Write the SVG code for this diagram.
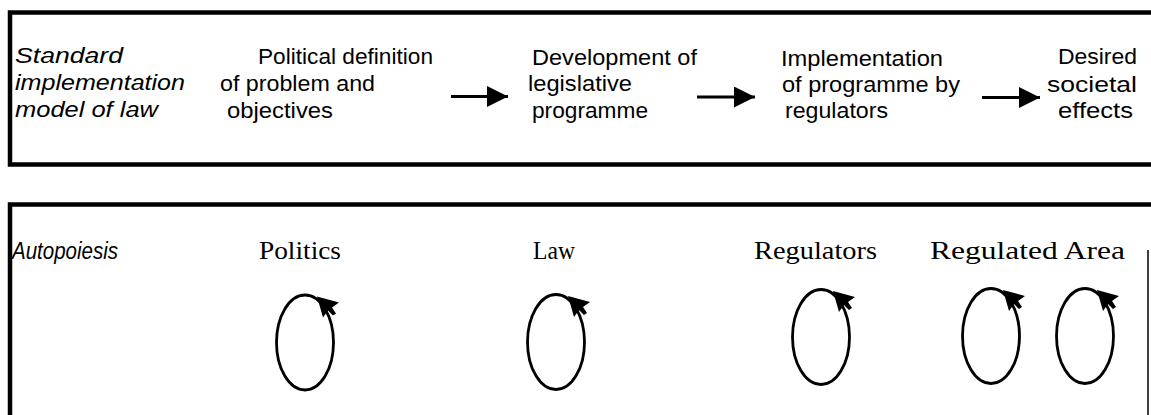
<svg xmlns="http://www.w3.org/2000/svg" width="1151" height="415" viewBox="0 0 1151 415">
<defs>
<style>
.bg{fill:#ffffff}
.frame{fill:none;stroke:#000;stroke-width:4.5}
.thin{fill:none;stroke:#000;stroke-width:1.5}
.t{font-family:"Liberation Sans",Arial,sans-serif;font-size:22px;fill:#000}
.ti{font-family:"Liberation Sans",Arial,sans-serif;font-size:22px;font-style:italic;fill:#000}
.r{font-family:"Liberation Serif","Times New Roman",serif;font-size:26px;fill:#000}
.shaft{stroke:#000;stroke-width:3;fill:none}
.loop{fill:none;stroke:#000;stroke-width:2.8}
.head{fill:#000}
</style>
<marker id="ah" viewBox="0 0 10 10" refX="10" refY="5" markerWidth="7" markerHeight="7" markerUnits="strokeWidth" orient="auto">
<path d="M0,0 L10,5 L0,10 Z" fill="#000"/>
</marker>
<g id="cycle">
<ellipse class="loop" cx="0" cy="0" rx="28.5" ry="47.5"/>
<polygon class="head" points="12,-46 34,-40 27,-35 31,-29 28,-27 23,-32 18,-25"/>
</g>
</defs>
<rect class="bg" x="0" y="0" width="1151" height="415"/>

<g id="frames">
<path class="frame" d="M1151,12.5 H10 V164.5 H1151"/>
<path class="frame" d="M1151,204.5 H10 V415"/>
<path class="thin" d="M1148,250 V415"/>
</g>

<g id="node-standard">
<text class="ti" x="15" y="63" textLength="108" lengthAdjust="spacingAndGlyphs">Standard</text>
<text class="ti" x="15" y="90" textLength="170" lengthAdjust="spacingAndGlyphs">implementation</text>
<text class="ti" x="15" y="117" textLength="143" lengthAdjust="spacingAndGlyphs">model of law</text>
</g>
<g id="node-political">
<text class="t" x="258" y="64" textLength="175" lengthAdjust="spacingAndGlyphs">Political definition</text>
<text class="t" x="220" y="91" textLength="155" lengthAdjust="spacingAndGlyphs">of problem and</text>
<text class="t" x="227" y="118" textLength="106" lengthAdjust="spacingAndGlyphs">objectives</text>
</g>
<g id="node-development">
<text class="t" x="532" y="65" textLength="165" lengthAdjust="spacingAndGlyphs">Development of</text>
<text class="t" x="528" y="91" textLength="104" lengthAdjust="spacingAndGlyphs">legislative</text>
<text class="t" x="532" y="118" textLength="116" lengthAdjust="spacingAndGlyphs">programme</text>
</g>
<g id="node-implementation">
<text class="t" x="781" y="66" textLength="162" lengthAdjust="spacingAndGlyphs">Implementation</text>
<text class="t" x="782" y="92" textLength="178" lengthAdjust="spacingAndGlyphs">of programme by</text>
<text class="t" x="785" y="118" textLength="103" lengthAdjust="spacingAndGlyphs">regulators</text>
</g>
<g id="node-desired">
<text class="t" x="1058" y="64" textLength="79" lengthAdjust="spacingAndGlyphs">Desired</text>
<text class="t" x="1047" y="92" textLength="90" lengthAdjust="spacingAndGlyphs">societal</text>
<text class="t" x="1058" y="118" textLength="75" lengthAdjust="spacingAndGlyphs">effects</text>
</g>

<g id="connectors">
<line class="shaft" x1="451" y1="96.5" x2="508" y2="96.5" marker-end="url(#ah)"/>
<line class="shaft" x1="697" y1="97" x2="755" y2="97" marker-end="url(#ah)"/>
<line class="shaft" x1="982" y1="97.5" x2="1040" y2="97.5" marker-end="url(#ah)"/>
</g>

<g id="node-autopoiesis">
<text class="ti" x="12" y="259" style="font-size:23px" textLength="106" lengthAdjust="spacingAndGlyphs">Autopoiesis</text>
</g>
<g id="node-politics">
<text class="r" x="259" y="259" textLength="82" lengthAdjust="spacingAndGlyphs">Politics</text>
<use href="#cycle" x="305" y="342.5"/>
</g>
<g id="node-law">
<text class="r" x="533" y="259" textLength="42" lengthAdjust="spacingAndGlyphs">Law</text>
<use href="#cycle" x="556" y="342"/>
</g>
<g id="node-regulators">
<text class="r" x="754" y="259" textLength="123" lengthAdjust="spacingAndGlyphs">Regulators</text>
<use href="#cycle" x="821" y="337"/>
</g>
<g id="node-regulated-area">
<text class="r" x="930" y="259" textLength="195" lengthAdjust="spacingAndGlyphs">Regulated Area</text>
<use href="#cycle" x="991" y="336"/>
<use href="#cycle" x="1085" y="336"/>
</g>
</svg>
